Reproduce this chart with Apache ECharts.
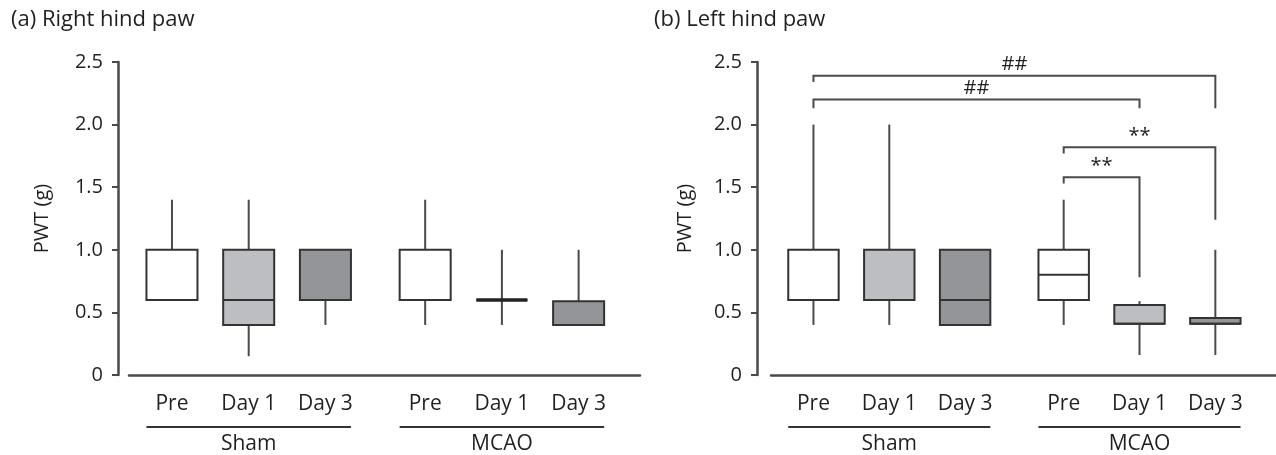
<!DOCTYPE html>
<html>
<head>
<meta charset="utf-8">
<script src="https://cdn.jsdelivr.net/npm/echarts@6/dist/echarts.min.js"></script>
<style>
	html, body { margin: 0; padding: 0; background: #fff; }
	#chart { width: 1276px; height: 455px; }
</style>
</head>
<body>
<div id="chart"></div>
<script>
const positions = [ 0, 1, 2, 3.3, 4.3, 5.3 ];
const timepoints = [ 'Pre', 'Day 1', 'Day 3', 'Pre', 'Day 1', 'Day 3' ];
const groupNames = [ 'Sham', 'MCAO' ];
const groupFrom = [ 0, 3.3 ];
const groupTo = [ 2, 5.3 ];

// (a) Right hind paw
const rightMin = [ 0.6, 0.15, 0.4, 0.4, 0.4, 0.4 ];
const rightQ1 = [ 0.6, 0.4, 0.6, 0.6, 0.6, 0.4 ];
const rightMedian = [ 0.6, 0.6, 0.6, 0.6, 0.6, 0.4 ];
const rightQ3 = [ 1.0, 1.0, 1.0, 1.0, 0.6, 0.59 ];
const rightMax = [ 1.4, 1.4, 1.0, 1.4, 1.0, 1.0 ];

// (b) Left hind paw
const leftMin = [ 0.4, 0.4, 0.4, 0.4, 0.16, 0.16 ];
const leftQ1 = [ 0.6, 0.6, 0.4, 0.6, 0.41, 0.41 ];
const leftMedian = [ 0.6, 0.6, 0.6, 0.8, 0.41, 0.41 ];
const leftQ3 = [ 1.0, 1.0, 1.0, 1.0, 0.56, 0.455 ];
const leftMax = [ 2.0, 2.0, 1.0, 1.4, 0.59, 1.0 ];

// significance brackets in panel (b)
const bracketFrom = [ 0, 0, 3.3, 3.3 ];
const bracketTo = [ 5.3, 4.3, 5.3, 4.3 ];
const bracketTop = [ 2.39, 2.2, 1.82, 1.58 ];
const bracketFromEnd = [ 2.34, 2.13, 1.77, 1.53 ];
const bracketToEnd = [ 2.13, 2.13, 1.24, 0.78 ];
const bracketLabels = [ '##', '##', '**', '**' ];

const boxColors = [ '#ffffff', '#bdbec1', '#949598', '#ffffff', '#bdbec1', '#949598' ];
const BOX_WIDTH = 0.665;
const FONT = '"Open Sans", "Noto Sans", sans-serif';
const INK = '#231f20';
const LINE = '#4a4a4a';

function boxData( mins, q1s, medians, q3s, maxs ) {
	return positions.map( ( x, i ) => [ x, mins[ i ], q1s[ i ], medians[ i ], q3s[ i ], maxs[ i ] ] );
}

function renderBox( params, api ) {
	const x = api.value( 0 );
	const half = api.size( [ BOX_WIDTH, 0 ] )[ 0 ] / 2;
	const pMin = api.coord( [ x, api.value( 1 ) ] );
	const pQ1 = api.coord( [ x, api.value( 2 ) ] );
	const pMed = api.coord( [ x, api.value( 3 ) ] );
	const pQ3 = api.coord( [ x, api.value( 4 ) ] );
	const pMax = api.coord( [ x, api.value( 5 ) ] );
	const whisker = { stroke: LINE, lineWidth: 2 };
	// a collapsed box (q1 == q3) shows as one heavy bar
	const collapsed = api.value( 2 ) === api.value( 4 );
	return {
		type: 'group',
		children: [
			{ type: 'line', shape: { x1: pMax[ 0 ], y1: pMax[ 1 ], x2: pQ3[ 0 ], y2: pQ3[ 1 ] }, style: whisker },
			{ type: 'line', shape: { x1: pQ1[ 0 ], y1: pQ1[ 1 ], x2: pMin[ 0 ], y2: pMin[ 1 ] }, style: whisker },
			{
				type: 'rect',
				shape: { x: pQ3[ 0 ] - half, y: pQ3[ 1 ], width: half * 2, height: pQ1[ 1 ] - pQ3[ 1 ] },
				style: { fill: boxColors[ params.dataIndex ], stroke: '#333', lineWidth: 2 }
			},
			{
				type: 'line',
				shape: { x1: pMed[ 0 ] - half, y1: pMed[ 1 ], x2: pMed[ 0 ] + half, y2: pMed[ 1 ] },
				style: { stroke: collapsed ? '#222' : '#333', lineWidth: collapsed ? 3.5 : 2 }
			}
		]
	};
}

function renderGroup( params, api ) {
	const half = api.size( [ BOX_WIDTH, 0 ] )[ 0 ] / 2;
	const a = api.coord( [ api.value( 0 ), 0 ] );
	const b = api.coord( [ api.value( 1 ), 0 ] );
	const y = a[ 1 ] + 52;
	return {
		type: 'group',
		children: [
			{ type: 'line', shape: { x1: a[ 0 ] - half, y1: y, x2: b[ 0 ] + half, y2: y }, style: { stroke: '#333', lineWidth: 2 } },
			{
				type: 'text',
				x: ( a[ 0 ] + b[ 0 ] ) / 2,
				y: y + 17,
				style: {
					text: groupNames[ params.dataIndex ], fill: INK,
					fontSize: 21, fontFamily: FONT,
					align: 'center', verticalAlign: 'middle', textAlign: 'center', textVerticalAlign: 'middle'
				}
			}
		]
	};
}

function renderBracket( params, api ) {
	const x1 = api.value( 0 );
	const x2 = api.value( 1 );
	const top1 = api.coord( [ x1, api.value( 2 ) ] );
	const top2 = api.coord( [ x2, api.value( 2 ) ] );
	const end1 = api.coord( [ x1, api.value( 3 ) ] );
	const end2 = api.coord( [ x2, api.value( 4 ) ] );
	return {
		type: 'group',
		children: [
			{
				type: 'polyline',
				shape: { points: [ end1, top1, top2, end2 ] },
				style: { stroke: LINE, lineWidth: 2, fill: null }
			},
			{
				type: 'text',
				x: ( top1[ 0 ] + top2[ 0 ] ) / 2,
				y: top1[ 1 ] - 1,
				style: {
					text: bracketLabels[ params.dataIndex ], fill: INK,
					fontSize: 20, fontFamily: FONT,
					align: 'center', verticalAlign: 'bottom', textAlign: 'center', textVerticalAlign: 'bottom'
				}
			}
		]
	};
}

function makeXAxis( gridIndex ) {
	return {
		type: 'value',
		gridIndex: gridIndex,
		min: -0.56,
		max: 6.1,
		splitLine: { show: false },
		axisTick: { show: false },
		axisLine: { onZero: false, lineStyle: { color: LINE, width: 2.5 } },
		axisLabel: {
			customValues: positions,
			formatter: ( v ) => timepoints[ positions.indexOf( v ) ] || '',
			margin: 19,
			fontSize: 21,
			fontFamily: FONT,
			color: INK
		}
	};
}

function makeYAxis( gridIndex, offset, nameGap ) {
	return {
		type: 'value',
		gridIndex: gridIndex,
		min: 0,
		max: 2.5,
		interval: 0.5,
		offset: offset,
		name: 'PWT (g)',
		nameLocation: 'middle',
		nameGap: nameGap,
		nameTextStyle: { fontSize: 20, fontFamily: FONT, color: INK },
		splitLine: { show: false },
		axisLine: { show: true, onZero: false, lineStyle: { color: LINE, width: 2.5 } },
		axisTick: { show: true, length: 6, lineStyle: { color: LINE, width: 2 } },
		axisLabel: {
			formatter: ( v ) => ( v === 0 ? '0' : v.toFixed( 1 ) ),
			margin: 15,
			fontSize: 20,
			fontFamily: FONT,
			color: INK
		}
	};
}

const chart = echarts.init( document.getElementById( 'chart' ), null, { renderer: 'canvas' } );

chart.setOption( {
	animation: false,
	title: [
		{ text: '(a) Right hind paw', left: 6, top: 4, textStyle: { fontSize: 22, fontWeight: 'normal', fontFamily: FONT, color: INK } },
		{ text: '(b) Left hind paw', left: 649, top: 4, textStyle: { fontSize: 22, fontWeight: 'normal', fontFamily: FONT, color: INK } }
	],
	grid: [
		{ left: 129, top: 62, width: 511, height: 313 },
		{ left: 771, top: 62, width: 511, height: 313 }
	],
	xAxis: [ makeXAxis( 0 ), makeXAxis( 1 ) ],
	yAxis: [ makeYAxis( 0, 11, 66 ), makeYAxis( 1, 14, 62 ) ],
	series: [
		{
			type: 'custom', xAxisIndex: 0, yAxisIndex: 0,
			renderItem: renderBox,
			data: boxData( rightMin, rightQ1, rightMedian, rightQ3, rightMax )
		},
		{
			type: 'custom', xAxisIndex: 1, yAxisIndex: 1,
			renderItem: renderBox,
			data: boxData( leftMin, leftQ1, leftMedian, leftQ3, leftMax )
		},
		{
			type: 'custom', xAxisIndex: 0, yAxisIndex: 0, clip: false,
			renderItem: renderGroup,
			data: groupFrom.map( ( f, i ) => [ f, groupTo[ i ] ] )
		},
		{
			type: 'custom', xAxisIndex: 1, yAxisIndex: 1, clip: false,
			renderItem: renderGroup,
			data: groupFrom.map( ( f, i ) => [ f, groupTo[ i ] ] )
		},
		{
			type: 'custom', xAxisIndex: 1, yAxisIndex: 1, clip: false,
			renderItem: renderBracket,
			data: bracketFrom.map( ( f, i ) => [ f, bracketTo[ i ], bracketTop[ i ], bracketFromEnd[ i ], bracketToEnd[ i ] ] )
		}
	]
} );
</script>
</body>
</html>
